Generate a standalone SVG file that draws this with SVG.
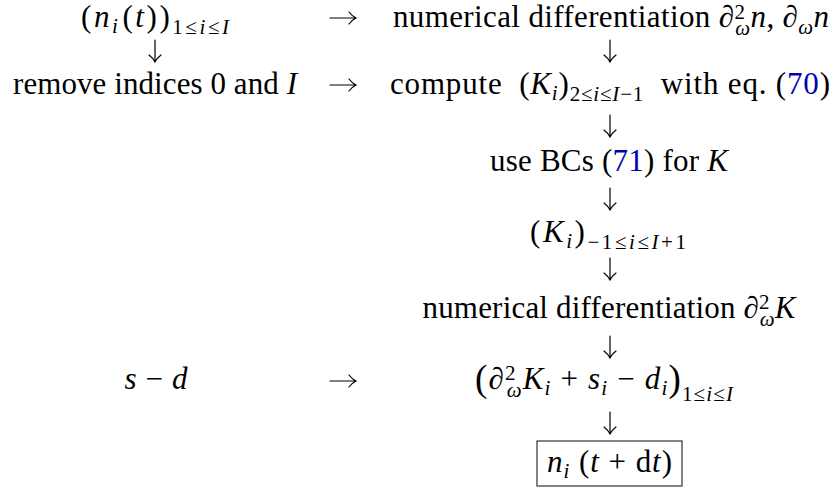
<svg xmlns="http://www.w3.org/2000/svg" width="837" height="488" viewBox="0 0 837 488">
<style>
text{font-family:"Liberation Serif","Times New Roman",serif;font-size:31px;fill:#000}
.i{font-style:italic}
.s{font-size:21px}
.b{font-size:37px}
.ref{fill:#0000b0}
.ar{fill:none;stroke:#000;stroke-width:1.2;stroke-linecap:round}
</style>
<rect width="837" height="488" fill="#fff"/>
<g id="connectors">
<g id="arrows-down">
<path class="ar" d="M155 40V62M149 55Q153 58 155 62Q157 58 161 55"/>
<path class="ar" d="M610 40V62M604 55Q608 58 610 62Q612 58 616 55"/>
<path class="ar" d="M610 115V137M604 130Q608 133 610 137Q612 133 616 130"/>
<path class="ar" d="M610 188V210M604 203Q608 206 610 210Q612 206 616 203"/>
<path class="ar" d="M610 258V280M604 273Q608 276 610 280Q612 276 616 273"/>
<path class="ar" d="M610 336V358M604 351Q608 354 610 358Q612 354 616 351"/>
<path class="ar" d="M610 412V434M604 427Q608 430 610 434Q612 430 616 427"/>
</g>
<g id="arrows-right">
<path class="ar" d="M330 18H356M349 12Q352 16 356 18Q352 20 349 24"/>
<path class="ar" d="M330 85H356M349 79Q352 83 356 85Q352 87 349 91"/>
<path class="ar" d="M330 381H356M349 375Q352 379 356 381Q352 383 349 387"/>
</g>
</g>
<g id="n-t">
<text x="155" y="27" text-anchor="middle" textLength="148" lengthAdjust="spacing">(<tspan class="i">n</tspan><tspan class="s i" dy="6">i</tspan><tspan dy="-6" dx="2">(</tspan><tspan class="i">t</tspan>))<tspan class="s" dy="7">1≤<tspan class="i">i</tspan>≤<tspan class="i">I</tspan></tspan></text>
</g>
<g id="num-diff-n">
<text x="611" y="27" text-anchor="middle" textLength="436" lengthAdjust="spacing">numerical differentiation ∂<tspan class="s" dy="-8">2</tspan><tspan class="s i" dx="-10" dy="16">ω</tspan><tspan class="i" dy="-8">n</tspan>, ∂<tspan class="s i" dy="7">ω</tspan><tspan class="i" dy="-7">n</tspan></text>
</g>
<g id="remove">
<text x="155" y="94" text-anchor="middle" textLength="284" lengthAdjust="spacing">remove indices 0 and <tspan class="i">I</tspan></text>
</g>
<g id="compute">
<text x="610" y="94" text-anchor="middle" textLength="440" lengthAdjust="spacing">compute <tspan dx="8">(</tspan><tspan class="i">K</tspan><tspan class="s i" dy="6">i</tspan><tspan dy="-6">)</tspan><tspan class="s" dy="7">2≤<tspan class="i">i</tspan>≤<tspan class="i">I</tspan>−1</tspan><tspan dy="-7" dx="8"> with eq. (</tspan><tspan class="ref">70</tspan>)</text>
</g>
<g id="bcs">
<text x="609" y="171" text-anchor="middle" textLength="238" lengthAdjust="spacing">use BCs (<tspan class="ref">71</tspan>) for <tspan class="i">K</tspan></text>
</g>
<g id="K-ext">
<text x="608" y="242" text-anchor="middle" textLength="156" lengthAdjust="spacing">(<tspan class="i">K</tspan><tspan class="s i" dy="6">i</tspan><tspan dy="-6">)</tspan><tspan class="s" dy="7">−1≤<tspan class="i">i</tspan>≤<tspan class="i">I</tspan>+1</tspan></text>
</g>
<g id="num-diff-K">
<text x="609" y="318" text-anchor="middle" textLength="373" lengthAdjust="spacing">numerical differentiation ∂<tspan class="s" dy="-9">2</tspan><tspan class="s i" dx="-10" dy="17">ω</tspan><tspan class="i" dy="-8">K</tspan></text>
</g>
<g id="s-d">
<text x="156" y="389" text-anchor="middle" textLength="63" lengthAdjust="spacing"><tspan class="i">s</tspan> − <tspan class="i">d</tspan></text>
</g>
<g id="rhs">
<text x="604" y="389" text-anchor="middle" textLength="258" lengthAdjust="spacing"><tspan class="b" dy="2">(</tspan><tspan dy="-2">∂</tspan><tspan class="s" dy="-9">2</tspan><tspan class="s i" dx="-10" dy="17">ω</tspan><tspan class="i" dy="-8">K</tspan><tspan class="s i" dy="6">i</tspan><tspan dy="-6"> + </tspan><tspan class="i">s</tspan><tspan class="s i" dy="6">i</tspan><tspan dy="-6"> − </tspan><tspan class="i">d</tspan><tspan class="s i" dy="6">i</tspan><tspan class="b" dy="-4">)</tspan><tspan class="s" dy="10">1≤<tspan class="i">i</tspan>≤<tspan class="i">I</tspan></tspan></text>
</g>
<g id="n-next">
<rect x="537" y="441" width="145" height="45" fill="none" stroke="#333" stroke-width="1.2"/>
<text x="609.5" y="472" text-anchor="middle" textLength="125" lengthAdjust="spacing"><tspan class="i">n</tspan><tspan class="s i" dy="6">i</tspan><tspan dy="-6"> (</tspan><tspan class="i">t</tspan> + d<tspan class="i">t</tspan>)</text>
</g>
</svg>
